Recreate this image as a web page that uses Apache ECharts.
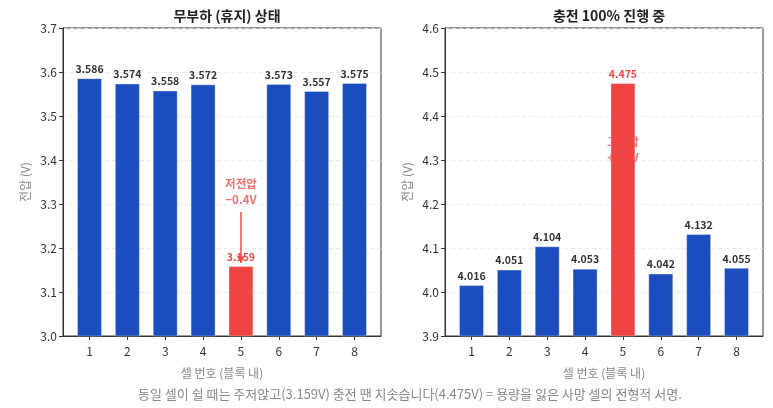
<!DOCTYPE html>
<html>
<head>
<meta charset="utf-8">
<script src="https://cdn.jsdelivr.net/npm/echarts@6/dist/echarts.min.js"></script>
<style>
  html, body { margin: 0; padding: 0; background: #fff; }
  #chart { width: 773px; height: 408px; }
</style>
</head>
<body>
<div id="chart"></div>
<script>
// 데이터
let cells = [1, 2, 3, 4, 5, 6, 7, 8];
let restV = [3.586, 3.574, 3.558, 3.572, 3.159, 3.573, 3.557, 3.575];
let chargeV = [4.016, 4.051, 4.104, 4.053, 4.475, 4.042, 4.132, 4.055];
let deadCell = 5;
let restTicks = [3.0, 3.7];
let chargeTicks = [3.9, 4.6];
let restNote = ['저전압', '−0.4V'];
let chargeNote = ['고전압', '+0.4V'];

let font = '"Noto Sans CJK KR", "Noto Sans", sans-serif';
let blue = '#1b4dbe';
let red = '#ef4444';
let redText = '#f04848';

function barData(vals) {
    return cells.map(function (c, i) {
        let bad = c === deadCell;
        return {
            value: [c, vals[i]],
            itemStyle: { color: bad ? red : blue },
            label: { color: bad ? redText : '#333' }
        };
    });
}

function xAxis(idx) {
    return {
        type: 'value',
        gridIndex: idx,
        min: 0.3,
        max: 8.7,
        name: '셀 번호 (블록 내)',
        nameLocation: 'middle',
        nameGap: 31,
        nameTextStyle: { color: '#888', fontSize: 12, fontFamily: font },
        splitLine: { show: false },
        axisLine: { onZero: false, lineStyle: { color: '#333' } },
        axisTick: { show: true, length: 4, lineStyle: { color: '#333' }, customValues: cells },
        axisLabel: { color: '#333', fontSize: 12, fontFamily: font, margin: 9, customValues: cells }
    };
}

function yAxis(idx, range) {
    return {
        type: 'value',
        gridIndex: idx,
        min: range[0],
        max: range[1],
        interval: 0.1,
        name: '전압 (V)',
        nameLocation: 'middle',
        nameGap: 32,
        nameTextStyle: { color: '#888', fontSize: 12, fontFamily: font },
        axisLine: { show: true, lineStyle: { color: '#333' } },
        axisTick: { show: true, length: 4, lineStyle: { color: '#333' } },
        axisLabel: {
            color: '#333', fontSize: 12, fontFamily: font, margin: 6,
            formatter: function (v) { return v.toFixed(1); }
        },
        splitLine: { show: true, lineStyle: { color: '#e4e4e4', type: [4, 3], width: 0.8 } }
    };
}

function barSeries(idx, vals) {
    return {
        type: 'bar',
        xAxisIndex: idx,
        yAxisIndex: idx,
        barWidth: 25,
        data: barData(vals),
        itemStyle: { borderColor: 'rgba(255,255,255,0.35)', borderWidth: 1 },
        label: {
            show: true,
            position: 'top',
            distance: 4,
            fontSize: 10.5,
            fontWeight: 'bold',
            fontFamily: font,
            formatter: function (p) { return p.value[1].toFixed(3); }
        },
        z: 2
    };
}

let chart = echarts.init(document.getElementById('chart'));
let option = {
    animation: false,
    backgroundColor: '#fff',
    title: [
        {
            text: '무부하 (휴지) 상태', left: 222, top: 4, textAlign: 'center',
            textStyle: { fontSize: 14, fontWeight: 'bold', color: '#222', fontFamily: font }
        },
        {
            text: '충전 100% 진행 중', left: 604, top: 4, textAlign: 'center',
            textStyle: { fontSize: 14, fontWeight: 'bold', color: '#222', fontFamily: font }
        },
        {
            text: '동일 셀이 쉴 때는 주저앉고(3.159V) 충전 땐 치솟습니다(4.475V) = 용량을 잃은 사망 셀의 전형적 서명.',
            left: 133, top: 383,
            textStyle: { fontSize: 13, fontWeight: 'normal', color: '#888', fontFamily: font }
        }
    ],
    grid: [
        { left: 63, top: 28, width: 318, height: 308, show: true, borderColor: '#333', borderWidth: 1 },
        { left: 445, top: 28, width: 318, height: 308, show: true, borderColor: '#333', borderWidth: 1 }
    ],
    xAxis: [xAxis(0), xAxis(1)],
    yAxis: [yAxis(0, restTicks), yAxis(1, chargeTicks)],
    series: [
        barSeries(0, restV),
        barSeries(1, chargeV),
        {
            // 저전압 주석
            type: 'scatter',
            xAxisIndex: 0,
            yAxisIndex: 0,
            symbolSize: 0,
            data: [[deadCell, 3.327]],
            label: {
                show: true, position: 'inside', formatter: restNote.join('\n'),
                color: redText, fontSize: 11.5, fontWeight: 'bold', fontFamily: font, lineHeight: 16
            },
            markLine: {
                silent: true,
                symbol: ['none', 'arrow'],
                symbolSize: [7, 8],
                label: { show: false },
                lineStyle: { color: redText, width: 1.5, type: 'solid' },
                data: [[{ coord: [deadCell, 3.282] }, { coord: [deadCell, 3.166] }]]
            },
            z: 5
        },
        {
            // 고전압 주석
            type: 'scatter',
            xAxisIndex: 1,
            yAxisIndex: 1,
            symbolSize: 0,
            data: [[deadCell, 4.323]],
            label: {
                show: true, position: 'inside', formatter: chargeNote.join('\n'),
                color: redText, fontSize: 11.5, fontWeight: 'bold', fontFamily: font, lineHeight: 16
            },
            z: 1
        }
    ]
};
chart.setOption(option);

window.addEventListener('resize', function () {
    chart.resize();
});
</script>
</body>
</html>
